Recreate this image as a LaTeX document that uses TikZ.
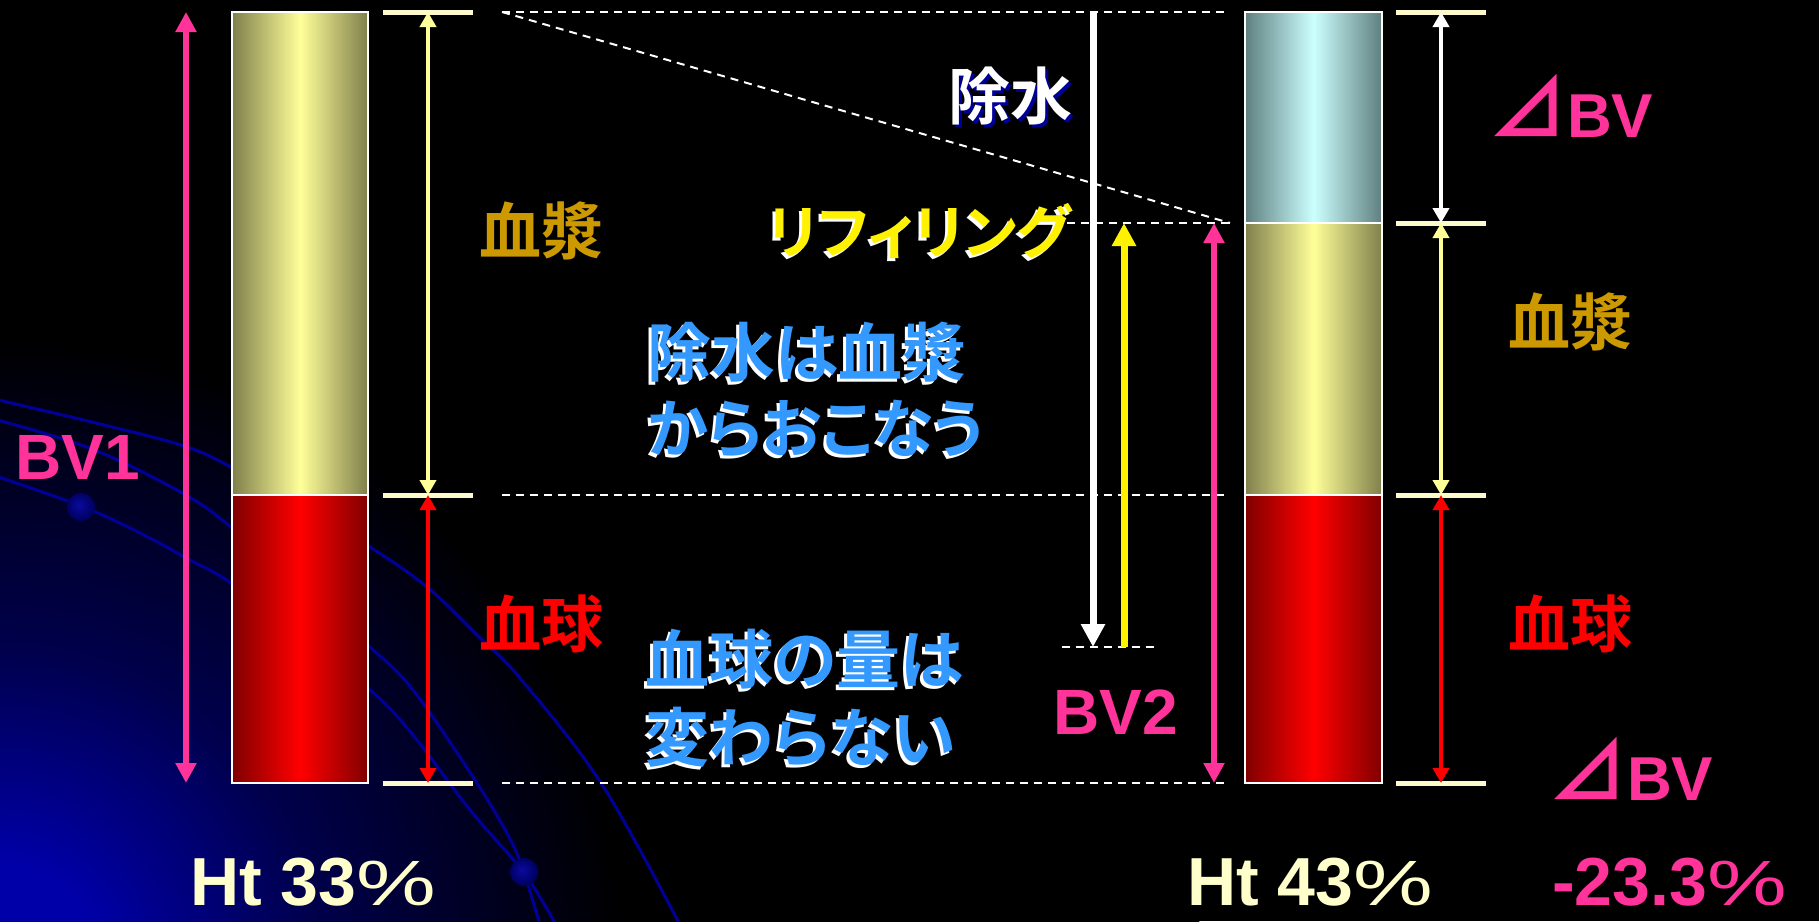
\documentclass[tikz,border=0pt]{standalone}
\usepackage{graphicx}
\usepackage{fontspec}
\usetikzlibrary{arrows.meta,calc}
\newfontfamily\jp{Noto Sans CJK JP Bold}[RawFeature=+palt]
\newfontfamily\lat{Liberation Sans Bold}
\newfontfamily\latr{Liberation Sans}
\definecolor{pinkc}{HTML}{FF3399}
\definecolor{goldc}{HTML}{CC9900}
\definecolor{creamc}{HTML}{FFFACC}
\definecolor{httc}{HTML}{FFFFCC}
\definecolor{ltyel}{HTML}{FFFF99}
\definecolor{skyc}{HTML}{3399FF}
\definecolor{navyc}{HTML}{000099}
\definecolor{glowc}{HTML}{0000A8}
\definecolor{glowm}{HTML}{00004C}
\definecolor{dotin}{HTML}{0A0AA0}
\definecolor{dotout}{HTML}{000060}
\definecolor{pedge}{HTML}{7F7F4C}
\definecolor{wedge}{HTML}{5F7F7F}
\definecolor{wmid}{HTML}{CCFFFF}
\definecolor{redge}{HTML}{800000}
\pgfdeclareradialshading{glow}{\pgfpoint{0bp}{0bp}}{color(0bp)=(glowc); color(2bp)=(glowc); color(6.5bp)=(glowm); color(13bp)=(black); color(50bp)=(black)}
\pgfdeclareradialshading{dotshade}{\pgfpoint{-4bp}{4bp}}{color(0bp)=(dotin); color(25bp)=(dotout); color(50bp)=(dotout)}
\tikzset{
  arcline/.style={draw=navyc, line width=3pt},
  ballstyle/.style={shading=dotshade},
  plasma/.style={left color=pedge, right color=pedge, middle color=ltyel},
  water/.style={left color=wedge, right color=wedge, middle color=wmid},
  blood/.style={left color=redge, right color=redge, middle color=red},
  barframe/.style={draw=white, line width=2pt},
  dline/.style={draw=white, line width=2pt, dash pattern=on 8pt off 6pt},
  tickbar/.style={draw=creamc, line width=5pt},
  pinkarr/.style={draw=pinkc, fill=pinkc, line width=6pt, {Triangle[width=20pt,length=20pt]}-{Triangle[width=20pt,length=20pt]}},
  thinarr/.style={line width=4.5pt, {Triangle[width=16pt,length=15pt]}-{Triangle[width=16pt,length=15pt]}},
  fatarr/.style={line width=7pt, -{Triangle[width=23pt,length=23pt]}},
  jptext/.style={inner sep=0pt, font=\jp\fontsize{62}{70}\selectfont},
  bigjp/.style={inner sep=0pt, anchor=west, font=\jp\fontsize{64}{72}\selectfont},
  lattext/.style={inner sep=0pt, font=\lat\fontsize{64}{72}\selectfont},
  httext/.style={inner sep=0pt, anchor=base west, text=httc},
  dbvtext/.style={inner sep=0pt, anchor=base west, text=pinkc},
}
\newcommand\pctsign{{\latr\fontsize{64}{70}\selectfont\scalebox{1.4}[1]{\%}}}
\newcommand\dbvlabel{{\jp\fontsize{79}{84}\selectfont ⊿}{\lat\fontsize{62}{70}\selectfont BV}}
\begin{document}
\begin{tikzpicture}[x=1pt,y=-1pt]
\useasboundingbox (0,0) rectangle (1819,921);
\clip (0,0) rectangle (1819,921);
\fill[black] (0,0) rectangle (1819,921);
\shade[shading=glow] (0,960) circle (1200);
% background arcs
\draw[arcline] plot[smooth, tension=0.6] coordinates {(-10,398) (100,424) (184,446) (231,467) (300,505) (370,547) (427,587) (477,635) (519,677) (601,783) (680,925)};
\draw[arcline] plot[smooth, tension=0.6] coordinates {(-10,418) (92,449) (184,494) (231,527) (300,585) (370,647) (413,690) (473,777) (509,837) (524,873) (540,925)};
\draw[arcline] plot[smooth, tension=0.6] coordinates {(-10,474) (81,506) (138,532) (190,560) (231,583) (300,637) (370,690) (413,735) (470,810) (524,873) (556,925)};
\shade[ballstyle] (81,507) circle (14);
\shade[ballstyle] (524,872) circle (14);
% left bar
\shade[plasma] (232,12) rectangle (368,495);
\shade[blood] (232,495) rectangle (368,783);
\draw[barframe] (232,12) rectangle (368,783);
\draw[barframe] (232,495) -- (368,495);
% right bar
\shade[water] (1245,12) rectangle (1382,223);
\shade[plasma] (1245,223) rectangle (1382,495);
\shade[blood] (1245,495) rectangle (1382,783);
\draw[barframe] (1245,12) rectangle (1382,783);
\draw[barframe] (1245,223) -- (1382,223);
\draw[barframe] (1245,495) -- (1382,495);
% dashed guide lines
\coordinate (dTopL) at (502,12);
\coordinate (dTopR) at (1226,12);
\coordinate (dDiagR) at (1230,223);
\coordinate (dRefL) at (1067,223);
\coordinate (dMidL) at (502,495);
\coordinate (dMidR) at (1226,495);
\coordinate (dBotL) at (502,783);
\coordinate (dBotR) at (1226,783);
\coordinate (dShL) at (1062,647);
\coordinate (dShR) at (1155,647);
\draw[dline] (dTopL) -- (dTopR);
\draw[dline] (dTopL) -- (dDiagR);
\draw[dline] (dRefL) -- (dDiagR);
\draw[dline] (dMidL) -- (dMidR);
\draw[dline] (dBotL) -- (dBotR);
\draw[dline] (dShL) -- (dShR);
% tick bars
\foreach \yy in {12,495,783} { \draw[tickbar] (383,\yy) -- (473,\yy); }
\foreach \yy in {12,223,495,783} { \draw[tickbar] (1396,\yy) -- (1486,\yy); }
% arrows
\coordinate (bv1t) at (186,12);
\coordinate (bv1b) at (186,783);
\draw[pinkarr] (bv1t) -- (bv1b);
\coordinate (lpt) at (428,12);
\coordinate (lpm) at (428,495);
\coordinate (lpb) at (428,783);
\draw[thinarr, draw=ltyel, fill=ltyel] (lpt) -- (lpm);
\draw[thinarr, draw=red, fill=red] (lpm) -- (lpb);
\coordinate (wt) at (1093,12);
\coordinate (wb) at (1093,647);
\draw[fatarr, draw=white, fill=white] (wt) -- (wb);
\coordinate (yb) at (1124,647);
\coordinate (yt) at (1124,223);
\draw[fatarr, draw=yellow, fill=yellow] (yb) -- (yt);
\coordinate (bv2t) at (1214,223);
\coordinate (bv2b) at (1214,783);
\draw[pinkarr] (bv2t) -- (bv2b);
\coordinate (rt) at (1441,12);
\coordinate (rw) at (1441,223);
\coordinate (rm) at (1441,495);
\coordinate (rb) at (1441,783);
\draw[thinarr, draw=white, fill=white] (rt) -- (rw);
\draw[thinarr, draw=ltyel, fill=ltyel] (rw) -- (rm);
\draw[thinarr, draw=red, fill=red] (rm) -- (rb);
% labels
\node[lattext, text=pinkc] (bv1) at (78,457) {BV1};
\node[lattext, text=pinkc] (bv2) at (1116,712) {BV2};
\node[jptext, text=goldc] (lplasma) at (541,231) {血漿};
\node[jptext, text=red] (lblood) at (541,624) {血球};
\node[jptext, text=goldc] (rplasma) at (1570,322) {血漿};
\node[jptext, text=red] (rblood) at (1570,624) {血球};
\node[jptext, text=navyc] (jsh) at (1013,99) {除水};
\node[jptext, text=white] (josui) at (1010,96) {除水};
\node[jptext, text=white, font=\jp\fontsize{58}{66}\selectfont] (rfsh) at (917,234) {リフィリング};
\node[jptext, text=yellow, font=\jp\fontsize{58}{66}\selectfont] (refill) at (920,231) {リフィリング};
\node[bigjp, text=white] (t1s) at (644,355) {除水は血漿};
\node[bigjp, text=skyc] (t1) at (647,352) {除水は血漿};
\node[bigjp, text=white, xscale=0.96, transform shape] (t2s) at (644,432) {からおこなう};
\node[bigjp, text=skyc, xscale=0.96, transform shape] (t2) at (647,429) {からおこなう};
\node[bigjp, text=white] (t3s) at (642,662) {血球の量は};
\node[bigjp, text=skyc] (t3) at (645,659) {血球の量は};
\node[bigjp, text=white] (t4s) at (642,740) {変わらない};
\node[bigjp, text=skyc] (t4) at (645,737) {変わらない};
\node[dbvtext] (dbv1) at (1488,137) {\dbvlabel};
\node[dbvtext] (dbv2) at (1548,800) {\dbvlabel};
\node[httext] (ht1) at (190,905) {{\lat\fontsize{68}{72}\selectfont Ht 33}\pctsign};
\node[httext] (ht2) at (1187,905) {{\lat\fontsize{68}{72}\selectfont Ht 43}\pctsign};
\node[httext, text=pinkc] (pct) at (1552,905) {{\lat\fontsize{68}{72}\selectfont -23.3}\pctsign};
\end{tikzpicture}
\end{document}
